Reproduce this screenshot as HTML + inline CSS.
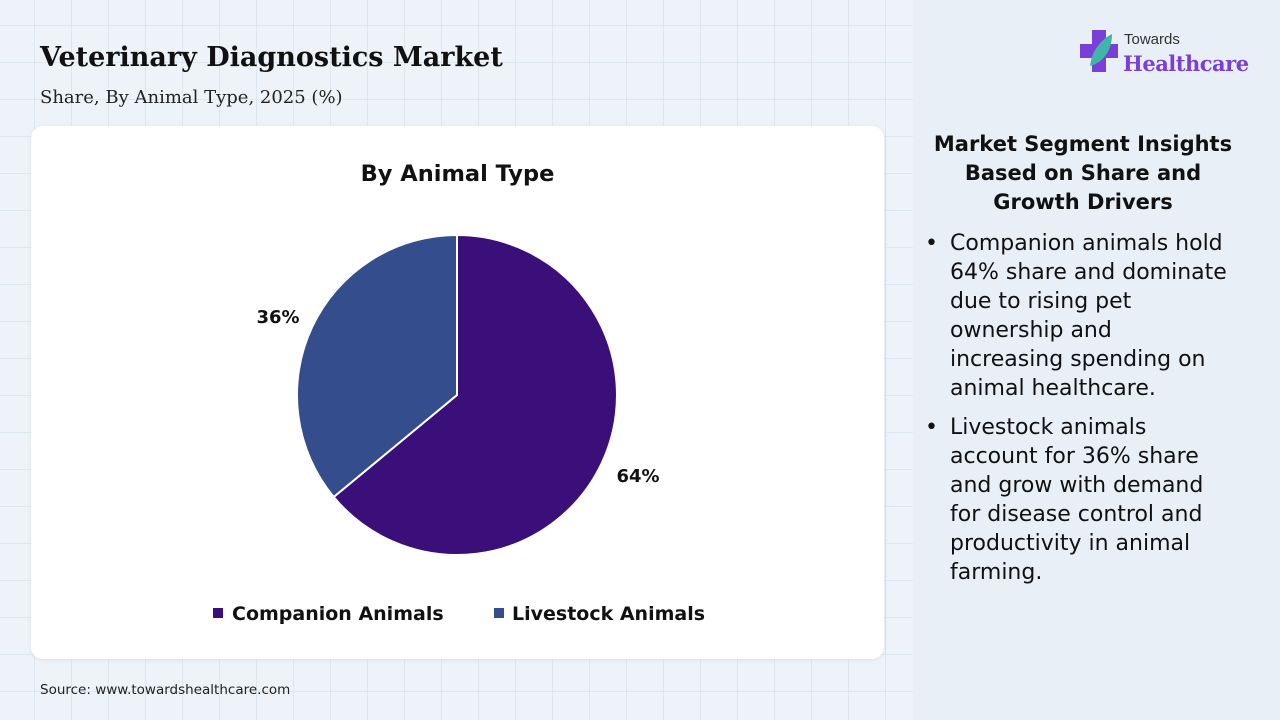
<!DOCTYPE html>
<html><head><style>
body{margin:0;width:1280px;height:720px;overflow:hidden;font-family:"Liberation Sans",sans-serif;position:relative;
background-color:#edf3f8;
background-image:linear-gradient(rgba(205,218,230,.45) 1px,transparent 1px),linear-gradient(90deg,rgba(205,218,230,.45) 1px,transparent 1px);
background-size:37px 37px;background-position:-3px -12px;}
.side{position:absolute;left:913px;top:0;width:367px;height:720px;background:#e9eff7;}
.card{position:absolute;left:31px;top:126px;width:853px;height:533px;background:#fff;border-radius:12px;box-shadow:0 1px 4px rgba(0,0,0,.08);}
</style></head><body>
<div class="side"></div>
<div style="position:absolute;left:40px;top:42px;font-family:'DejaVu Serif',serif;font-weight:bold;font-size:27px;color:#111">Veterinary Diagnostics Market</div>
<div style="position:absolute;left:40px;top:87px;font-family:'DejaVu Serif',serif;font-size:18px;color:#222">Share, By Animal Type, 2025 (%)</div>
<div class="card"></div>
<div style="position:absolute;left:31px;top:161px;width:853px;text-align:center;font-family:'DejaVu Sans',sans-serif;font-weight:bold;font-size:22.5px;color:#111">By Animal Type</div>
<svg style="position:absolute;left:0;top:0" width="1280" height="720">
<path d="M457,395 L457,235 A160,160 0 1 1 333.7,497 Z" fill="#3b0f7a" stroke="#fff" stroke-width="2"/>
<path d="M457,395 L333.7,497 A160,160 0 0 1 457,235 Z" fill="#344d8c" stroke="#fff" stroke-width="2"/>
<text x="278" y="323" text-anchor="middle" font-family="DejaVu Sans" font-weight="bold" font-size="18" fill="#111">36%</text>
<text x="638" y="482" text-anchor="middle" font-family="DejaVu Sans" font-weight="bold" font-size="18" fill="#111">64%</text>
<rect x="213" y="608" width="10" height="10" fill="#3b0f7a"/>
<text x="232" y="620" font-family="DejaVu Sans" font-weight="bold" font-size="19" fill="#111">Companion Animals</text>
<rect x="494" y="608" width="10" height="10" fill="#344d8c"/>
<text x="512" y="620" font-family="DejaVu Sans" font-weight="bold" font-size="19" fill="#111">Livestock Animals</text>
<rect x="1092" y="30" width="14" height="42" fill="#7a3fd6"/>
<rect x="1080" y="44" width="38" height="14" fill="#7a3fd6"/>
<path d="M1090,66 C1092,48 1104,38 1112,34 C1112,50 1104,62 1090,66Z" fill="#3fb6a8"/>
<text x="1124" y="44" font-family="Liberation Sans" font-size="15" fill="#333">Towards</text>
<text x="1123" y="71" font-family="DejaVu Serif" font-weight="bold" font-size="21" fill="#7a3fd6" letter-spacing="-0.5">Healthcare</text>
</svg>
<div style="position:absolute;left:918px;top:130px;width:330px;text-align:center;font-family:'DejaVu Sans',sans-serif;font-weight:bold;font-size:21px;line-height:29px;color:#111">Market Segment Insights<br>Based on Share and<br>Growth Drivers</div>
<div style="position:absolute;left:925px;top:229px;width:340px;font-family:'DejaVu Sans',sans-serif;font-size:22px;line-height:29px;color:#111;white-space:nowrap">
<div style="display:flex"><span style="width:25px">•</span><span>Companion animals hold<br>64% share and dominate<br>due to rising pet<br>ownership and<br>increasing spending on<br>animal healthcare.</span></div>
<div style="display:flex;margin-top:10px"><span style="width:25px">•</span><span>Livestock animals<br>account for 36% share<br>and grow with demand<br>for disease control and<br>productivity in animal<br>farming.</span></div>
</div>
<div style="position:absolute;left:40px;top:682px;font-family:'DejaVu Sans',sans-serif;font-size:13.5px;color:#222">Source: www.towardshealthcare.com</div>
</body></html>
